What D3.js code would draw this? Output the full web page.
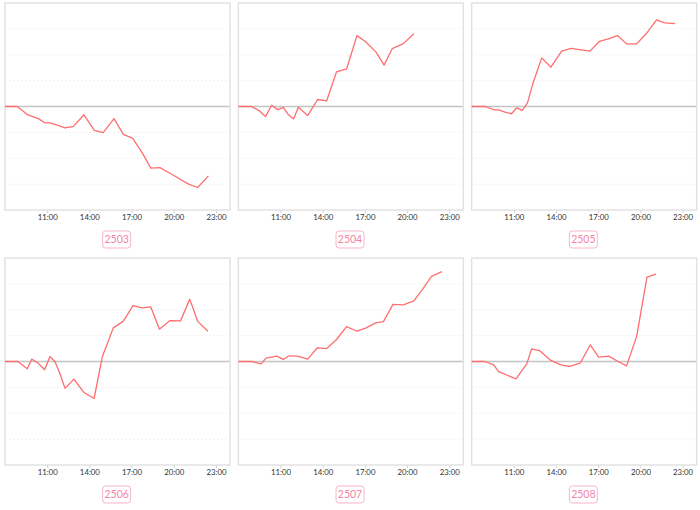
<!DOCTYPE html>
<html><head><meta charset="utf-8">
<script src="https://cdn.jsdelivr.net/npm/d3@7"></script>
<style>body{margin:0;background:#fff;} svg{display:block;}</style>
</head><body>
<svg id="chart" width="700" height="510"></svg>
<script>
const contracts = ["2503","2504","2505","2506","2507","2508"];

const times2503 = ["08:00","08:52","09:35","10:22","10:50","11:12","11:47","12:16","12:52","13:37","14:21","14:59","15:45","16:25","17:05","17:47","18:22","19:01","19:44","20:27","21:06","21:42","22:28"];
const values2503 = [0,0,-0.31,-0.47,-0.63,-0.63,-0.73,-0.83,-0.77,-0.32,-0.92,-1.01,-0.47,-1.08,-1.23,-1.81,-2.38,-2.36,-2.58,-2.81,-3.01,-3.13,-2.68];

const times2504 = ["08:00","08:57","09:32","09:56","10:22","10:48","11:12","11:33","11:56","12:16","12:56","13:38","14:17","14:59","15:42","16:26","17:03","17:47","18:22","18:57","19:44","20:29"];
const values2504 = [0,0,-0.18,-0.39,0.05,-0.12,-0.03,-0.31,-0.48,-0.03,-0.35,0.27,0.22,1.34,1.45,2.74,2.5,2.11,1.6,2.24,2.43,2.81];

const times2505 = ["08:00","08:57","09:37","09:56","10:25","10:50","11:12","11:36","11:58","12:23","12:59","13:38","14:24","15:04","16:25","17:05","17:43","18:22","19:01","19:44","20:26","21:09","21:44","22:28"];
const values2505 = [0,0,-0.13,-0.13,-0.23,-0.28,-0.05,-0.15,0.14,0.94,1.88,1.52,2.14,2.25,2.14,2.52,2.61,2.74,2.42,2.42,2.83,3.35,3.23,3.2];

const times2506 = ["08:00","08:55","09:35","09:54","10:21","10:49","11:12","11:33","11:55","12:16","12:54","13:37","14:20","14:55","15:42","16:25","17:06","17:46","18:22","18:59","19:44","20:29","21:08","21:43","22:26"];
const values2506 = [0,0,-0.28,0.09,-0.06,-0.32,0.19,0,-0.48,-1.04,-0.68,-1.2,-1.43,0.17,1.3,1.56,2.16,2.07,2.11,1.25,1.58,1.57,2.41,1.54,1.17];

const times2507 = ["08:00","08:57","09:37","09:58","10:44","11:12","11:36","12:13","12:56","13:37","14:17","14:59","15:42","16:26","17:03","17:46","18:19","19:00","19:44","20:29","21:05","21:44","22:28"];
const values2507 = [0,0,-0.09,0.13,0.21,0.08,0.22,0.21,0.09,0.53,0.5,0.85,1.35,1.17,1.29,1.49,1.54,2.21,2.19,2.34,2.78,3.29,3.47];

const times2508 = ["08:00","08:57","09:34","09:55","11:09","11:55","12:16","12:52","13:38","14:21","14:59","15:44","16:26","17:02","17:44","18:23","19:01","19:44","20:28","21:06"];
const values2508 = [0,0,-0.13,-0.39,-0.67,-0.09,0.49,0.41,0.04,-0.13,-0.19,-0.05,0.64,0.17,0.21,0.01,-0.17,0.97,3.26,3.38];

const tickLabels = ["11:00","14:00","17:00","20:00","23:00"];
const gridValues = [-3,-2,-1,1,2,3];

const allTimes = [times2503,times2504,times2505,times2506,times2507,times2508];
const allValues = [values2503,values2504,values2505,values2506,values2507,values2508];

const parse = d3.timeParse("%H:%M");
const t0 = parse("08:00"), t1 = d3.timeHour.offset(t0, 16);
const cellW = 700/3, cellH = 255;
const svg = d3.select("#chart");

contracts.forEach((name, i) => {
  const col = i % 3, row = Math.floor(i / 3);
  const cx = col * cellW, cy = row * cellH;
  const left = cx + 5, right = cx + 230;
  const top = cy + 3, bottom = cy + 210;
  const x = d3.scaleTime().domain([t0, t1]).range([left, right]);
  const y = d3.scaleLinear().domain([-4, 4]).range([bottom, top]);
  const g = svg.append("g");

  g.selectAll("line.grid").data(gridValues).join("line")
    .attr("class","grid")
    .attr("x1", left).attr("x2", right)
    .attr("y1", d => y(d)).attr("y2", d => y(d))
    .attr("stroke", "#f0f0f0").attr("stroke-width", 1)
    .attr("stroke-dasharray", "2,2");

  g.append("line")
    .attr("x1", left).attr("x2", right)
    .attr("y1", y(0)).attr("y2", y(0))
    .attr("stroke", "#c4c4c4").attr("stroke-width", 1.3);

  const axis = d3.axisBottom(x)
    .tickValues(tickLabels.map(parse))
    .tickFormat(d3.timeFormat("%H:%M"))
    .tickSize(3).tickPadding(1.5);
  const ax = g.append("g").attr("transform", `translate(0,${bottom})`).call(axis);
  ax.select(".domain").remove();
  ax.selectAll(".tick line").attr("stroke", "#d0d0d0");
  ax.selectAll(".tick text").attr("fill", "#333").style("font-family", "Lato, 'Open Sans', sans-serif").style("font-size", "7.8px");

  g.append("rect")
    .attr("x", left).attr("y", top)
    .attr("width", right - left).attr("height", bottom - top)
    .attr("fill", "none").attr("stroke", "#e2e2e2").attr("stroke-width", 1.5);

  const pts = allTimes[i].map((t, k) => ({t: parse(t), v: allValues[i][k]}));
  const line = d3.line().x(d => x(d.t)).y(d => y(d.v));
  g.append("path").datum(pts)
    .attr("d", line)
    .attr("fill", "none")
    .attr("stroke", "#ff6e6e")
    .attr("stroke-width", 1.3)
    .attr("stroke-linejoin", "round");

  const bx = cx + cellW / 2;
  g.append("rect")
    .attr("x", bx - 14).attr("y", cy + 231)
    .attr("width", 28).attr("height", 17)
    .attr("rx", 3)
    .attr("fill", "#fff").attr("stroke", "#f7b5ca").attr("stroke-width", 1);
  g.append("text")
    .attr("x", bx).attr("y", cy + 239.5)
    .attr("dy", "0.35em")
    .attr("text-anchor", "middle")
    .attr("fill", "#f285a8")
    .style("font-family", "Lato, 'Open Sans', sans-serif")
    .style("font-size", "10.5px")
    .text(name);
});
</script>
</body></html>
